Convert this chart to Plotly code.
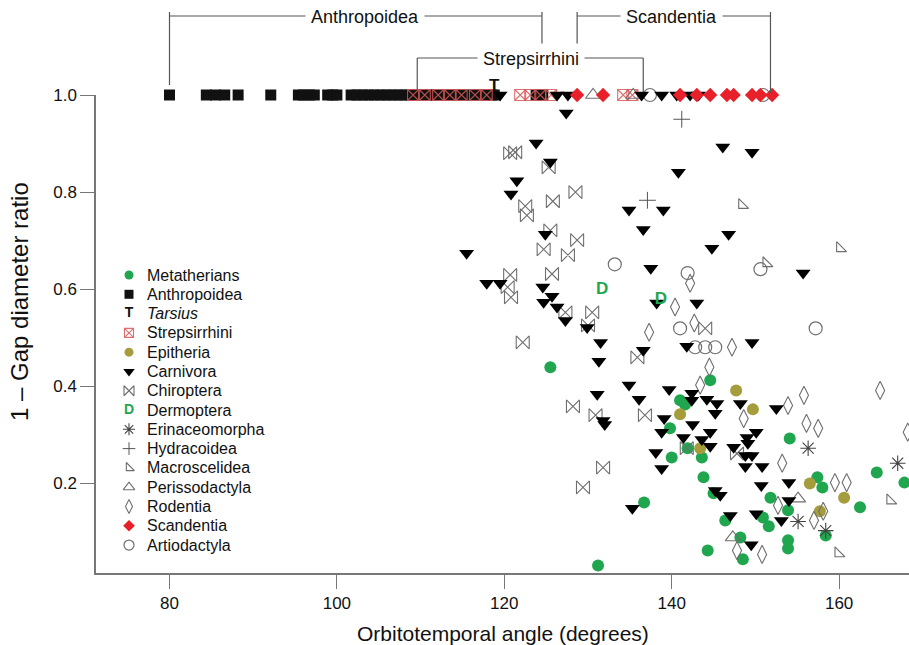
import plotly.graph_objects as go

# ---------------- data ----------------
X_RANGE = [71.22, 168.35]
Y_RANGE = [0.0147, 1.0]
x_ticks = [80, 100, 120, 140, 160]
y_ticks = [0.2, 0.4, 0.6, 0.8, 1.0]
y_tick_text = ["0.2", "0.4", "0.6", "0.8", "1.0"]

metatherians_x = [125.5, 144.6, 141.0, 141.6, 139.8, 141.9, 140.0, 143.6, 143.8, 154.1, 145.0, 151.8, 157.4, 158.0,
                  136.7, 153.9, 150.9, 151.6, 146.4, 148.2, 164.5, 167.8, 162.5, 153.9, 153.9, 144.3, 148.5, 131.2, 158.4]
metatherians_y = [0.439, 0.412, 0.371, 0.362, 0.313, 0.272, 0.253, 0.253, 0.212, 0.292, 0.179, 0.170, 0.212, 0.191,
                  0.160, 0.144, 0.129, 0.111, 0.123, 0.088, 0.222, 0.201, 0.150, 0.082, 0.065, 0.061, 0.043, 0.030, 0.092]

anthropoidea_x = [71.2, 80.0, 84.4, 85.5, 86.6, 88.2, 92.1, 95.4, 96.0, 96.7, 97.3, 98.9, 99.5, 100.0,
                  101.7, 102.4, 103.1, 103.8, 104.5, 105.2, 105.9, 106.6, 107.3, 108.0, 108.7, 109.4, 110.1,
                  110.8, 111.5, 112.2, 112.9, 113.6, 114.3, 115.0, 115.7, 116.4, 117.1, 117.8, 118.5, 118.8,
                  123.8, 124.6]
anthropoidea_y = [1.0] * len(anthropoidea_x)

tarsius_x = [118.8]
tarsius_y = [1.0]

strepsirrhini_x = [109.1, 110.5, 112.1, 113.5, 114.9, 116.5, 117.9, 121.9, 123.1, 124.3, 125.6, 134.2, 135.3]
strepsirrhini_y = [1.0] * len(strepsirrhini_x)

epitheria_x = [147.7, 149.7, 141.0, 143.4, 156.5, 160.6, 157.7]
epitheria_y = [0.391, 0.352, 0.342, 0.272, 0.199, 0.170, 0.142]

carnivora_x = [127.4, 123.8, 125.5, 146.1, 149.6, 140.8, 121.5, 120.8, 134.9, 139.0, 136.6, 146.8, 144.8, 115.5,
               124.9, 137.5, 155.7, 117.9, 119.5, 124.6, 125.7, 124.7, 126.3, 143.0, 138.2, 127.3, 129.9, 131.5,
               136.6, 141.8, 149.6, 131.3, 134.9, 131.1, 136.1, 139.7, 142.4, 142.4, 144.2, 145.4, 148.2, 152.5,
               145.2, 139.1, 131.8, 132.0, 142.5, 138.8, 144.6, 150.1, 141.4, 143.6, 144.6, 147.4, 149.0, 149.1,
               138.1, 148.8, 149.6, 138.8, 148.8, 150.8, 154.0, 150.7, 145.2, 145.8, 154.0, 135.3, 147.0, 150.1,
               153.1, 149.5,
               119.5, 126.3, 127.6, 136.4, 138.8, 140.6, 142.2, 143.2]
carnivora_y = [0.963, 0.901, 0.862, 0.893, 0.882, 0.841, 0.823, 0.796, 0.763, 0.763, 0.723, 0.713, 0.684, 0.674,
               0.713, 0.643, 0.633, 0.612, 0.612, 0.604, 0.585, 0.573, 0.563, 0.571, 0.571, 0.535, 0.521, 0.490,
               0.474, 0.482, 0.490, 0.451, 0.402, 0.383, 0.373, 0.393, 0.385, 0.371, 0.373, 0.364, 0.364, 0.354,
               0.344, 0.333, 0.329, 0.321, 0.321, 0.305, 0.305, 0.305, 0.294, 0.290, 0.276, 0.274, 0.294, 0.282,
               0.263, 0.257, 0.257, 0.230, 0.234, 0.234, 0.201, 0.195, 0.185, 0.175, 0.164, 0.148, 0.133, 0.137,
               0.123, 0.073,
               1.0, 1.0, 1.0, 1.0, 1.0, 1.0, 1.0, 1.0]

chiroptera_x = [121.3, 120.7, 125.3, 128.5, 125.8, 122.5, 122.7, 125.5, 128.7, 124.7, 127.6, 120.7, 125.7, 120.4,
                120.8, 127.3, 130.5, 130.0, 122.2, 135.9, 144.0, 128.2, 130.9, 136.8, 131.8, 129.4, 141.8, 147.8]
chiroptera_y = [0.882, 0.880, 0.851, 0.800, 0.781, 0.771, 0.752, 0.721, 0.701, 0.682, 0.670, 0.629, 0.631, 0.604,
                0.583, 0.552, 0.552, 0.525, 0.490, 0.459, 0.519, 0.358, 0.340, 0.340, 0.232, 0.191, 0.272, 0.261]

dermoptera_x = [131.7, 138.7]
dermoptera_y = [0.598, 0.577]

erinaceomorpha_x = [156.3, 155.1, 158.4, 167.0]
erinaceomorpha_y = [0.272, 0.121, 0.102, 0.241]

hydracoidea_x = [141.2, 137.1]
hydracoidea_y = [0.950, 0.783]

macroscelidea_x = [148.4, 160.1, 166.1, 159.9, 151.3]
macroscelidea_y = [0.773, 0.684, 0.164, 0.055, 0.653]

perissodactyla_x = [155.1, 147.3, 130.6, 135.4]
perissodactyla_y = [0.168, 0.088, 1.0, 1.0]

rodentia_x = [140.4, 142.2, 142.7, 137.3, 147.2, 144.5, 143.4, 155.8, 164.9, 153.9, 148.6, 156.1, 157.5, 153.2,
              159.5, 160.9, 152.7, 158.1, 157.0, 147.8, 150.8, 168.2]
rodentia_y = [0.563, 0.612, 0.530, 0.511, 0.480, 0.439, 0.402, 0.381, 0.391, 0.360, 0.333, 0.323, 0.313, 0.241,
              0.201, 0.201, 0.154, 0.142, 0.123, 0.061, 0.053, 0.305]

scandentia_x = [128.7, 131.8, 141.0, 143.0, 144.6, 146.6, 147.4, 149.6, 150.6, 152.0]
scandentia_y = [1.0] * len(scandentia_x)

artiodactyla_x = [133.2, 141.9, 150.6, 141.0, 142.8, 144.0, 145.2, 157.2, 137.4, 150.9]
artiodactyla_y = [0.651, 0.633, 0.641, 0.519, 0.480, 0.480, 0.480, 0.519, 1.0, 1.0]

# clade brackets: label, left x, right x, label centre x, row
brackets = [
    ("Anthropoidea", 80.0, 124.5, 103.3, 0),
    ("Scandentia", 128.7, 151.8, 140.0, 0),
    ("Strepsirrhini", 109.6, 136.6, 123.2, 1),
]

legend_names = ["Metatherians", "Anthropoidea", "<i>Tarsius</i>", "Strepsirrhini", "Epitheria", "Carnivora",
                "Chiroptera", "Dermoptera", "Erinaceomorpha", "Hydracoidea", "Macroscelidea", "Perissodactyla",
                "Rodentia", "Scandentia", "Artiodactyla"]

# ---------------- styling ----------------
FONT = "Liberation Sans, Arial, Helvetica, sans-serif"
W, H = 909, 645
ML, MR, MT, MB = 96, 0, 95, 72
GREEN = "#1fa64e"
OLIVE = "#a59c3c"
GRAY = "#6f6f6f"
RED = "#e8202a"
PINK = "rgba(214,86,86,0.85)"

styles = {
    "Metatherians": dict(symbol="circle", size=12, color=GREEN),
    "Anthropoidea": dict(symbol="square", size=11, color="#111111"),
    "<i>Tarsius</i>": None,
    "Strepsirrhini": dict(symbol="square-x-open", size=11, color=PINK, line=dict(width=1.1, color=PINK)),
    "Epitheria": dict(symbol="circle", size=12, color=OLIVE),
    "Carnivora": dict(symbol="triangle-down", size=13, color="#000000"),
    "Chiroptera": dict(symbol="bowtie-open", size=13, color=GRAY, line=dict(width=1.1, color=GRAY)),
    "Dermoptera": None,
    "Erinaceomorpha": dict(symbol="asterisk-open", size=13, color="#444444", line=dict(width=1.1, color="#444444")),
    "Hydracoidea": dict(symbol="cross-thin-open", size=12, color="#555555", line=dict(width=1.0, color="#555555")),
    "Macroscelidea": dict(symbol="triangle-sw-open", size=11, color=GRAY, line=dict(width=1.1, color=GRAY)),
    "Perissodactyla": dict(symbol="triangle-up-open", size=13, color=GRAY, line=dict(width=1.1, color=GRAY)),
    "Rodentia": dict(symbol="diamond-tall-open", size=13, color=GRAY, line=dict(width=1.1, color=GRAY)),
    "Scandentia": dict(symbol="diamond", size=11, color=RED),
    "Artiodactyla": dict(symbol="circle-open", size=13, color=GRAY, line=dict(width=1.2, color=GRAY)),
}

series = [
    ("Metatherians", metatherians_x, metatherians_y),
    ("Anthropoidea", anthropoidea_x, anthropoidea_y),
    ("Strepsirrhini", strepsirrhini_x, strepsirrhini_y),
    ("Epitheria", epitheria_x, epitheria_y),
    ("Chiroptera", chiroptera_x, chiroptera_y),
    ("Erinaceomorpha", erinaceomorpha_x, erinaceomorpha_y),
    ("Hydracoidea", hydracoidea_x, hydracoidea_y),
    ("Macroscelidea", macroscelidea_x, macroscelidea_y),
    ("Perissodactyla", perissodactyla_x, perissodactyla_y),
    ("Rodentia", rodentia_x, rodentia_y),
    ("Artiodactyla", artiodactyla_x, artiodactyla_y),
    ("Carnivora", carnivora_x, carnivora_y),
    ("Scandentia", scandentia_x, scandentia_y),
]

fig = go.Figure()
for name, xs, ys in series:
    fig.add_trace(go.Scatter(x=xs, y=ys, mode="markers", name=name, marker=styles[name],
                             cliponaxis=False, showlegend=False))

fig.add_trace(go.Scatter(x=dermoptera_x, y=dermoptera_y, mode="text", text=["<b>D</b>"] * len(dermoptera_x),
                         textfont=dict(family=FONT, size=17, color=GREEN), cliponaxis=False, showlegend=False))
fig.add_trace(go.Scatter(x=tarsius_x, y=tarsius_y, mode="text", text=["<b>T</b>"], textposition="top center",
                         textfont=dict(family=FONT, size=17, color="#111"),
                         cliponaxis=False, showlegend=False))

# ---------------- manual legend on a pixel overlay axis ----------------
leg_x_marker, leg_x_text, leg_y0, leg_dy = 129, 145, 275, 19.29
for i, name in enumerate(legend_names):
    yy = leg_y0 + i * leg_dy
    st = styles[name]
    if st is not None:
        m = dict(st)
        m["size"] = max(7, int(round(st["size"] * 0.78)))
        fig.add_trace(go.Scatter(x=[leg_x_marker], y=[yy], mode="markers", marker=m, xaxis="x2", yaxis="y2",
                                 showlegend=False, cliponaxis=False, hoverinfo="skip"))
    else:
        txt = "T" if "Tarsius" in name else "D"
        col = "#111" if txt == "T" else GREEN
        fig.add_trace(go.Scatter(x=[leg_x_marker], y=[yy], mode="text", text=["<b>" + txt + "</b>"],
                                 textfont=dict(family=FONT, size=14, color=col), xaxis="x2", yaxis="y2",
                                 showlegend=False, cliponaxis=False, hoverinfo="skip"))
    fig.add_annotation(x=leg_x_text, y=yy, xref="x2", yref="y2", text=name, showarrow=False,
                       xanchor="left", yanchor="middle", font=dict(family=FONT, size=16, color="#111"))

# ---------------- brackets ----------------
plot_w = W - ML - MR
plot_h = H - MT - MB


def xp(x):
    return (x - X_RANGE[0]) / (X_RANGE[1] - X_RANGE[0])


def yp(pix):
    return (H - MB - pix) / plot_h


line_style = dict(color="#555555", width=1.2)
row_y = [16, 58]
row_top = [12, 58]
for label, xl, xr, xc, row in brackets:
    ly = row_y[row]
    fig.add_shape(type="line", xref="paper", yref="paper", x0=xp(xl), x1=xp(xr), y0=yp(ly), y1=yp(ly),
                  line=line_style)
    if row == 0:
        bottoms = {"Anthropoidea": (85, 47), "Scandentia": (47, 93)}[label]
    else:
        bottoms = (90, 92)
    fig.add_shape(type="line", xref="paper", yref="paper", x0=xp(xl), x1=xp(xl), y0=yp(row_top[row]),
                  y1=yp(bottoms[0]), line=line_style)
    fig.add_shape(type="line", xref="paper", yref="paper", x0=xp(xr), x1=xp(xr), y0=yp(row_top[row]),
                  y1=yp(bottoms[1]), line=line_style)
    fig.add_annotation(x=xp(xc), y=yp(ly + 1), xref="paper", yref="paper", text=label, showarrow=False,
                       xanchor="center", yanchor="middle", bgcolor="white", borderpad=5,
                       font=dict(family=FONT, size=18, color="#111"))

# axis titles
fig.add_annotation(x=(503 - ML) / plot_w, y=yp(633), xref="paper", yref="paper",
                   text="Orbitotemporal angle (degrees)", showarrow=False, xanchor="center", yanchor="middle",
                   font=dict(family=FONT, size=21, color="#111"))
fig.add_annotation(x=(19 - ML) / plot_w, y=yp(302), xref="paper", yref="paper",
                   text="1 \u2013 Gap diameter ratio", showarrow=False, textangle=-90, xanchor="center",
                   yanchor="middle", font=dict(family=FONT, size=24, color="#111"))

axis_common = dict(showgrid=False, zeroline=False, showline=True, linecolor="#777777", linewidth=1.5,
                   ticks="outside", ticklen=14, tickcolor="#777777", tickwidth=1.2,
                   tickfont=dict(family=FONT, size=17, color="#111"))
fig.update_layout(
    width=W, height=H, margin=dict(l=ML, r=MR, t=MT, b=MB, pad=0),
    paper_bgcolor="white", plot_bgcolor="white", showlegend=False,
    xaxis=dict(range=X_RANGE, tickvals=x_ticks, **axis_common),
    yaxis=dict(range=Y_RANGE, tickvals=y_ticks, ticktext=y_tick_text, **axis_common),
    xaxis2=dict(range=[ML, W - MR], overlaying="x", visible=False, fixedrange=True),
    yaxis2=dict(range=[H - MB, MT], overlaying="y", visible=False, fixedrange=True),
)

fig.write_html("out.html")
